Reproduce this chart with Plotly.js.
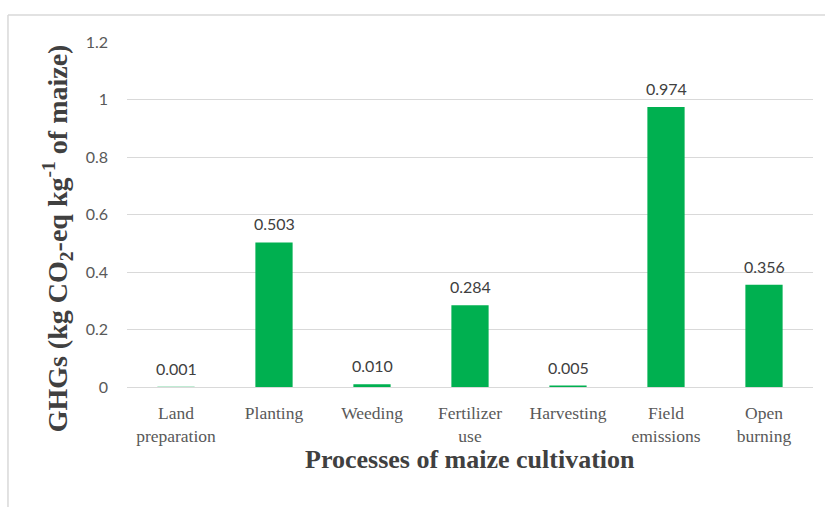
<!DOCTYPE html>
<html>
<head>
<meta charset="utf-8">
<script src="https://cdn.plot.ly/plotly-3.0.1.min.js"></script>
<style>html,body{margin:0;padding:0;background:#fff;}#chart{width:825px;height:507px;}</style>
</head>
<body>
<div id="chart"></div>
<script>
const categories = ["Land<br>preparation", "Planting", "Weeding", "Fertilizer<br>use", "Harvesting", "Field<br>emissions", "Open<br>burning"];
const ghgValues = [0.001, 0.503, 0.010, 0.284, 0.005, 0.974, 0.356];
const yTickVals = [0, 0.2, 0.4, 0.6, 0.8, 1, 1.2];
const yTickText = ["0", "0.2", "0.4", "0.6", "0.8", "1", "1.2"];
const xTitle = "Processes of maize cultivation";
const yTitle = "GHGs (kg CO<sub>2</sub>-eq kg<sup>-1</sup> of maize)";

const serif = '"Liberation Serif", "Times New Roman", serif';
const sans = 'Lato, "Open Sans", sans-serif';

const trace = {
  type: 'bar',
  x: categories,
  y: ghgValues,
  marker: {color: '#00b050', line: {width: 0}},
  hoverinfo: 'none'
};

const annotations = categories.map((c, i) => ({
  x: c, y: ghgValues[i], xref: 'x', yref: 'y',
  text: ghgValues[i].toFixed(3),
  showarrow: false, yanchor: 'bottom', yshift: 7,
  font: {family: sans, size: 16, color: '#404040'}
}));

annotations.push({
  xref: 'paper', yref: 'paper', x: 0.5, y: -0.21,
  xanchor: 'center', yanchor: 'middle', showarrow: false, borderpad: 0,
  text: '<b>' + xTitle + '</b>',
  font: {family: serif, size: 26, color: '#404040'}
});
annotations.push({
  xref: 'paper', yref: 'paper', x: -0.1, y: 0.432,
  xanchor: 'center', yanchor: 'middle', showarrow: false, textangle: -90,
  text: '<b>' + yTitle + '</b>',
  font: {family: serif, size: 28, color: '#404040'}
});

const layout = {
  width: 825, height: 507,
  margin: {l: 127, r: 12, t: 42, b: 120},
  paper_bgcolor: '#ffffff',
  plot_bgcolor: '#ffffff',
  showlegend: false,
  bargap: 0.62,
  xaxis: {
    type: 'category',
    tickfont: {family: serif, size: 17.5, color: '#595959'},
    showgrid: false,
    showline: true, linecolor: '#d9d9d9', linewidth: 1,
    ticks: '', ticklabelstandoff: 10
  },
  yaxis: {
    range: [0, 1.2],
    tickvals: yTickVals, ticktext: yTickText,
    tickfont: {family: sans, size: 16, color: '#595959'},
    showgrid: true, gridcolor: '#d9d9d9', gridwidth: 1,
    zeroline: false, showline: false, ticks: '', ticklabelstandoff: 18
  },
  annotations: annotations,
  shapes: [
    {type: 'line', xref: 'paper', yref: 'paper', x0: -0.1735, x1: 1.02, y0: 1.078, y1: 1.078, line: {color: '#d9d9d9', width: 1.5}},
    {type: 'line', xref: 'paper', yref: 'paper', x0: -0.1735, x1: -0.1735, y0: 1.078, y1: -0.35, line: {color: '#d9d9d9', width: 1.5}}
  ]
};

Plotly.newPlot('chart', [trace], layout, {displayModeBar: false, staticPlot: true});
</script>
</body>
</html>
